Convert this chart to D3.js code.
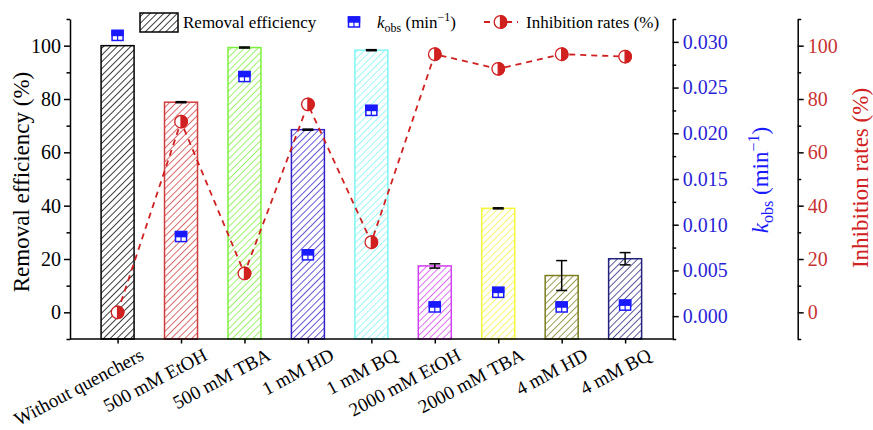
<!DOCTYPE html>
<html>
<head>
<meta charset="utf-8">
<script src="https://cdn.jsdelivr.net/npm/d3@7"></script>
<style>
  body { margin: 0; background: #fff; }
</style>
</head>
<body>
<svg></svg>
<script>
// Data
const categories = ["Without quenchers", "500 mM EtOH", "500 mM TBA", "1 mM HD", "1 mM BQ",
                    "2000 mM EtOH", "2000 mM TBA", "4 mM HD", "4 mM BQ"];
const removal = [100, 78.8, 99.3, 68.5, 98.3, 17.4, 39.0, 13.8, 20.1];
const removalErr = [0, 0.2, 0.2, 0.2, 0.2, 0.8, 0.2, 5.6, 2.3];
const kobs = [0.0307, 0.0087, 0.0262, 0.0067, 0.0225, 0.0010, 0.0026, 0.0010, 0.0012];
const inhibition = [0, 71.5, 14.6, 78.0, 26.3, 96.8, 91.3, 96.8, 95.9];
const leftTicks = [0, 20, 40, 60, 80, 100];
const kobsTicks = [0, 0.005, 0.010, 0.015, 0.020, 0.025, 0.030];
const inhibTicks = [0, 20, 40, 60, 80, 100];

const barColors = ["#000000", "#d03c3c", "#7cf03c", "#3322cc", "#7ff5f5",
                   "#d23ff0", "#f5f53c", "#7d7d1e", "#23237d"];
const blue = "#1a1aff", red = "#d02020";
const serif = '"Liberation Serif", "Times New Roman", serif';

// Dimensions
const width = 873, height = 430;
const x0 = 70, x1 = 672.7, xInhib = 797.7;
const yTop = 19, yBottom = 339;

const svg = d3.select("svg").attr("width", width).attr("height", height);

// Scales
const xScale = d3.scalePoint().domain(categories).range([x0, x1]).padding(0.75);
const yScale = d3.scaleLinear().domain([-10, 110]).range([yBottom, yTop]);
const kScale = d3.scaleLinear().domain([-0.0025, 0.0325]).range([yBottom, yTop]);
const iScale = d3.scaleLinear().domain([-10, 110]).range([yBottom, yTop]);
const barW = xScale.step() * 0.52;

// Hatch patterns
const defs = svg.append("defs");
barColors.forEach((c, i) => {
    defs.append("pattern")
        .attr("id", "hatch" + i)
        .attr("patternUnits", "userSpaceOnUse")
        .attr("width", 4.8).attr("height", 4.8)
        .attr("patternTransform", "rotate(45)")
        .append("line")
        .attr("x1", 0).attr("y1", 0).attr("x2", 0).attr("y2", 4.8)
        .attr("stroke", c).attr("stroke-width", 1.5);
});

// Bars
svg.append("g").selectAll("rect")
    .data(removal)
    .enter().append("rect")
    .attr("x", (d, i) => xScale(categories[i]) - barW / 2)
    .attr("y", d => yScale(d))
    .attr("width", barW)
    .attr("height", d => yScale(-10) - yScale(d))
    .attr("fill", (d, i) => `url(#hatch${i})`)
    .attr("stroke", (d, i) => barColors[i])
    .attr("stroke-width", 1.5);

// Error bars
const eb = svg.append("g").attr("stroke", "black").attr("stroke-width", 1.5);
removal.forEach((v, i) => {
    const e = removalErr[i];
    if (e <= 0) return;
    const cx = xScale(categories[i]);
    eb.append("line").attr("x1", cx).attr("x2", cx).attr("y1", yScale(v - e)).attr("y2", yScale(v + e));
    [v - e, v + e].forEach(t => {
        eb.append("line").attr("x1", cx - 5.5).attr("x2", cx + 5.5).attr("y1", yScale(t)).attr("y2", yScale(t));
    });
});

// Inhibition dashed line
const line = d3.line().x((d, i) => xScale(categories[i])).y(d => iScale(d));
svg.append("path")
    .datum(inhibition)
    .attr("fill", "none")
    .attr("stroke", red)
    .attr("stroke-width", 1.8)
    .attr("stroke-dasharray", "6,5")
    .attr("d", line);

// Symbols
const kobsSymbol = (g, cx, cy) => {
    g.append("rect").attr("x", cx - 5.5).attr("y", cy - 5).attr("width", 11).attr("height", 10)
        .attr("fill", "white").attr("stroke", blue).attr("stroke-width", 1.5);
    g.append("rect").attr("x", cx - 5.5).attr("y", cy - 5).attr("width", 11).attr("height", 5)
        .attr("fill", blue).attr("stroke", blue).attr("stroke-width", 1.5);
    g.append("line").attr("x1", cx).attr("x2", cx).attr("y1", cy).attr("y2", cy + 5)
        .attr("stroke", blue).attr("stroke-width", 1.2);
};
const inhibSymbol = (g, cx, cy) => {
    const r = 6.3;
    g.append("circle").attr("cx", cx).attr("cy", cy).attr("r", r)
        .attr("fill", "white").attr("stroke", red).attr("stroke-width", 1.3);
    g.append("path")
        .attr("d", `M${cx},${cy - r} A${r},${r} 0 0 1 ${cx},${cy + r} Z`)
        .attr("fill", red).attr("stroke", red).attr("stroke-width", 1.3);
};

const symG = svg.append("g");
kobs.forEach((v, i) => kobsSymbol(symG, xScale(categories[i]), kScale(v)));
inhibition.forEach((v, i) => inhibSymbol(symG, xScale(categories[i]), iScale(v)));

// Axes
const styleAxis = (g, color) => {
    g.attr("font-family", null).attr("font-size", null);
    g.select(".domain").attr("stroke-width", 1.5);
    g.selectAll(".tick line").attr("stroke-width", 1.5);
    g.selectAll(".tick text").attr("font-size", 20).attr("fill", color);
};
const minor = (axisFn, scale, values, xPos) => {
    svg.append("g").attr("transform", `translate(${xPos},0)`)
        .call(axisFn(scale).tickValues(values).tickSize(3.5).tickFormat(""))
        .call(g => g.select(".domain").remove())
        .selectAll(".tick line").attr("stroke-width", 1.5);
};

// left
svg.append("g").attr("transform", `translate(${x0},0)`)
    .call(d3.axisLeft(yScale).tickValues(leftTicks).tickSize(6).tickPadding(3).tickSizeOuter(0))
    .call(g => styleAxis(g, "black"));
minor(d3.axisLeft, yScale, [-10, 10, 30, 50, 70, 90, 110], x0);

// kobs
svg.append("g").attr("transform", `translate(${x1},0)`)
    .call(d3.axisRight(kScale).tickValues(kobsTicks).tickFormat(d3.format(".3f")).tickSize(6).tickPadding(4).tickSizeOuter(0))
    .call(g => styleAxis(g, "#2a1fd6"));
minor(d3.axisRight, kScale, [-0.0025, 0.0025, 0.0075, 0.0125, 0.0175, 0.0225, 0.0275, 0.0325], x1);

// inhibition
svg.append("g").attr("transform", `translate(${xInhib},0)`)
    .call(d3.axisRight(iScale).tickValues(inhibTicks).tickSize(6).tickPadding(4).tickSizeOuter(0))
    .call(g => styleAxis(g, "#c83232"));
minor(d3.axisRight, iScale, [-10, 10, 30, 50, 70, 90, 110], xInhib);

// bottom
const xAxis = svg.append("g").attr("transform", `translate(0,${yBottom})`)
    .call(d3.axisBottom(xScale).tickSize(4.5).tickSizeOuter(0))
    .call(g => styleAxis(g, "black"));
xAxis.select(".domain").attr("d", `M${x0},0H${x1}`);
xAxis.selectAll(".tick text")
    .attr("font-size", 19)
    .attr("text-anchor", "end")
    .attr("y", 0).attr("dy", 0)
    .attr("transform", "translate(27,20) rotate(-28)");

// Axis titles
svg.append("text")
    .attr("transform", `translate(29,${(yTop + yBottom) / 2 + 3}) rotate(-90)`)
    .attr("text-anchor", "middle").attr("font-size", 23)
    .text("Removal efficiency (%)");

const kt = svg.append("text")
    .attr("transform", `translate(768,180) rotate(-90)`)
    .attr("text-anchor", "middle").attr("font-size", 23).attr("fill", blue);
kt.append("tspan").attr("font-style", "italic").text("k");
kt.append("tspan").attr("font-size", 16).attr("dy", 5).text("obs");
kt.append("tspan").attr("dy", -5).text(" (min");
kt.append("tspan").attr("font-size", 16).attr("dy", -9).text("\u22121");
kt.append("tspan").attr("dy", 9).text(")");

svg.append("text")
    .attr("transform", `translate(868,178) rotate(-90)`)
    .attr("text-anchor", "middle").attr("font-size", 23).attr("fill", red)
    .text("Inhibition rates (%)");

// Legend
const lg = svg.append("g").attr("font-size", 17);
lg.append("rect").attr("x", 140).attr("y", 13).attr("width", 38).attr("height", 19)
    .attr("fill", "url(#hatch0)").attr("stroke", "black").attr("stroke-width", 1.5);
lg.append("text").attr("x", 183).attr("y", 28).text("Removal efficiency");

kobsSymbol(lg, 354, 22);
const lk = lg.append("text").attr("x", 377).attr("y", 28);
lk.append("tspan").attr("font-style", "italic").text("k");
lk.append("tspan").attr("font-size", 12).attr("dy", 4).text("obs");
lk.append("tspan").attr("dy", -4).text(" (min");
lk.append("tspan").attr("font-size", 12).attr("dy", -7).text("\u22121");
lk.append("tspan").attr("dy", 7).text(")");

lg.append("line").attr("x1", 483).attr("x2", 518).attr("y1", 22).attr("y2", 22)
    .attr("stroke", red).attr("stroke-width", 1.8).attr("stroke-dasharray", "6,5").attr("stroke-dashoffset", -1);
inhibSymbol(lg, 500.5, 22);
lg.append("text").attr("x", 526).attr("y", 28).text("Inhibition rates (%)");

// Serif everywhere
svg.selectAll("text").style("font-family", serif);
</script>
</body>
</html>
